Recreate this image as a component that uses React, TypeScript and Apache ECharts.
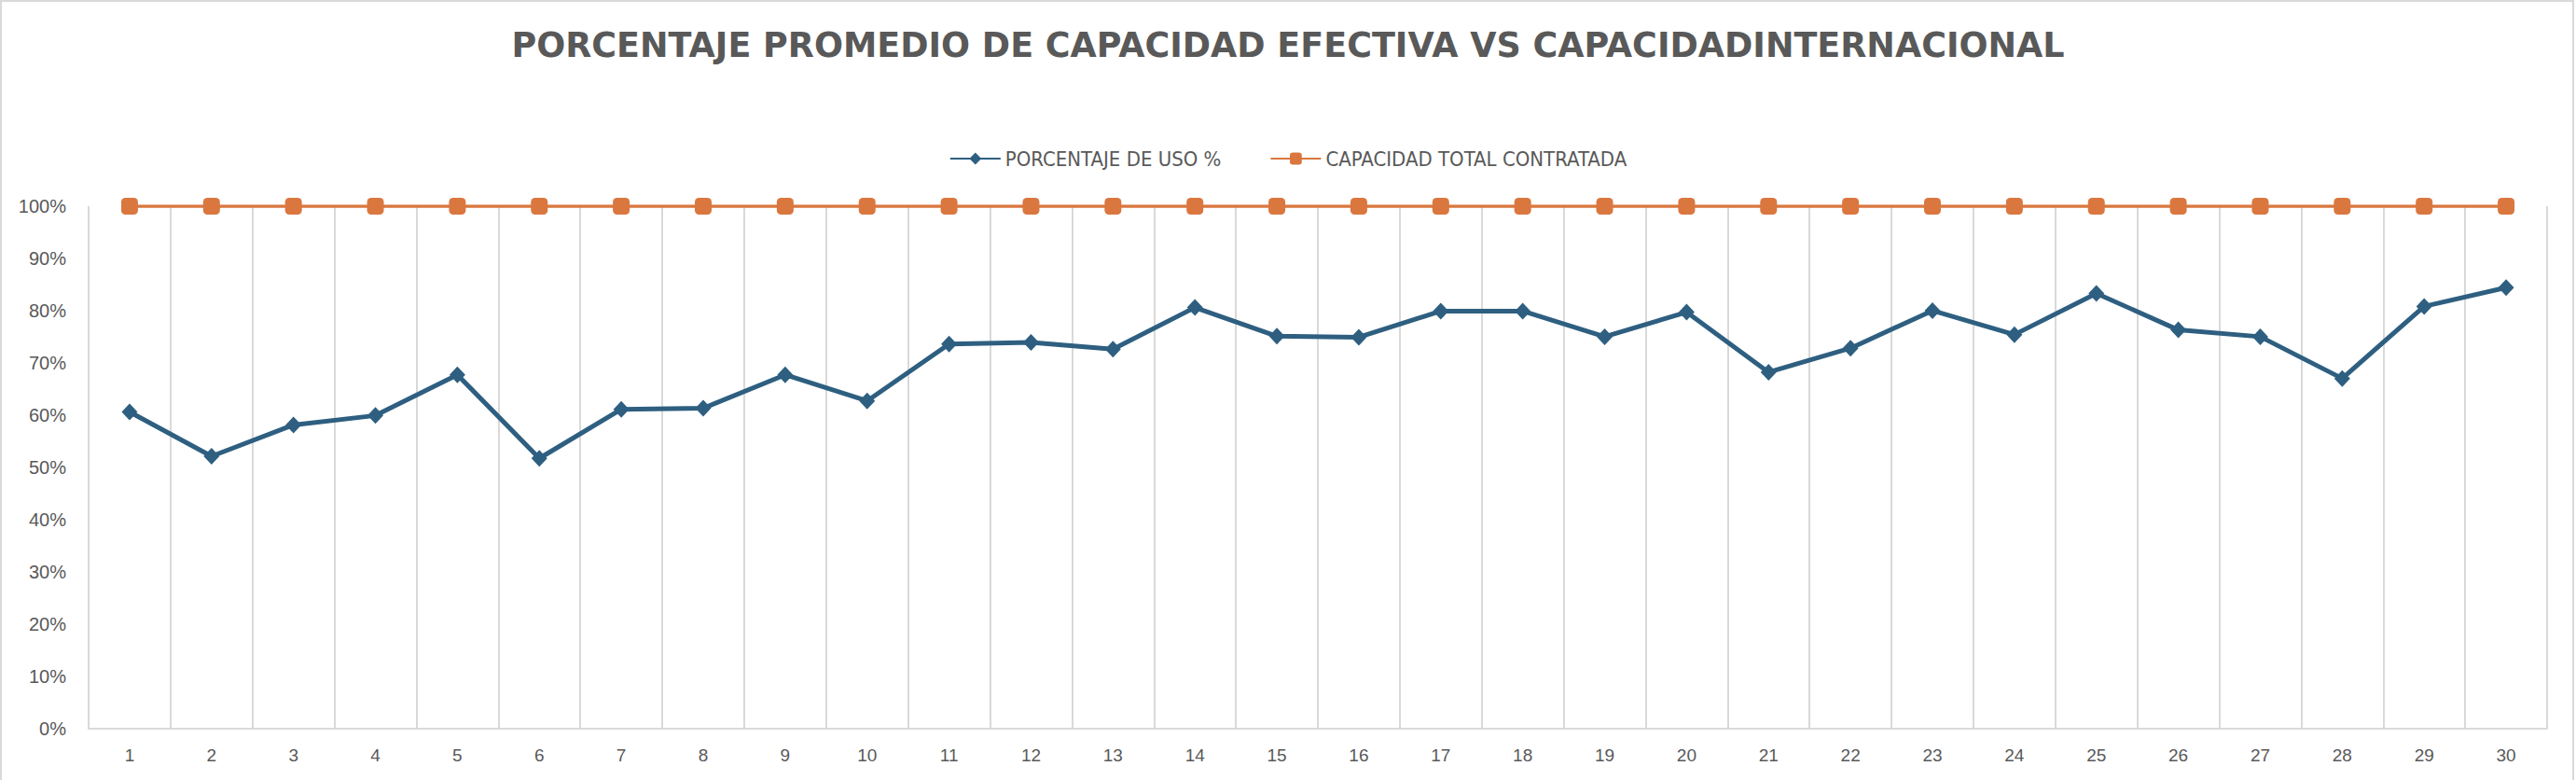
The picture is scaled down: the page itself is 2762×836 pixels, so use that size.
import React, { useEffect, useRef } from "react";
import * as echarts from "echarts";

const titleText = "PORCENTAJE PROMEDIO DE CAPACIDAD EFECTIVA VS CAPACIDADINTERNACIONAL";
const seriesNames = ["PORCENTAJE DE USO %", "CAPACIDAD TOTAL CONTRATADA"];
const days = ["1", "2", "3", "4", "5", "6", "7", "8", "9", "10", "11", "12", "13", "14", "15", "16", "17", "18", "19", "20", "21", "22", "23", "24", "25", "26", "27", "28", "29", "30"];
const usoPct = [60.6, 52.1, 58.1, 59.9, 67.7, 51.7, 61.1, 61.3, 67.7, 62.7, 73.6, 73.9, 72.6, 80.6, 75.1, 74.9, 79.9, 79.9, 75.0, 79.7, 68.2, 72.8, 80.0, 75.4, 83.3, 76.3, 75.0, 67.0, 80.8, 84.4];
const capacidadTotal = [100, 100, 100, 100, 100, 100, 100, 100, 100, 100, 100, 100, 100, 100, 100, 100, 100, 100, 100, 100, 100, 100, 100, 100, 100, 100, 100, 100, 100, 100];
const yTicks = { min: 0, max: 100, interval: 10 };

const BLUE = "#2E5F80";
const ORANGE = "#DA773F";
const TEXT = "#595959";
const GRIDC = "#D9D9D9";

export default function App() {
  const ref = useRef<HTMLDivElement>(null);
  useEffect(() => {
    document.body.style.margin = "0";
    const chart = echarts.init(ref.current!, null, { renderer: "svg" });
    chart.setOption({
      animation: false,
      backgroundColor: "#FFFFFF",
      title: {
        text: titleText,
        left: "center",
        top: 25,
        textStyle: {
          fontFamily: "'DejaVu Sans', sans-serif",
          fontWeight: "bold",
          fontSize: 36.5,
          color: TEXT,
        },
      },
      legend: {
        top: 154,
        left: "center",
        itemWidth: 54,
        itemHeight: 16,
        itemGap: 52,
        textStyle: {
          fontFamily: "'Liberation Sans Narrow', 'DejaVu Sans Condensed', sans-serif",
          fontSize: 22,
          color: TEXT,
        },
        data: seriesNames,
      },
      graphic: [
        {
          type: "rect",
          shape: { x: 1, y: 1, width: 2758, height: 840 },
          style: { fill: "none", stroke: GRIDC, lineWidth: 2 },
          silent: true,
        },
      ],
      grid: { left: 95, right: 31, top: 221, bottom: 55.5, containLabel: false },
      xAxis: {
        type: "category",
        data: days,
        boundaryGap: true,
        axisLine: { show: true, lineStyle: { color: GRIDC, width: 2 } },
        axisTick: { show: false },
        splitLine: { show: true, interval: 0, lineStyle: { color: GRIDC, width: 2 } },
        axisLabel: {
          interval: 0,
          margin: 19,
          fontFamily: "'Liberation Sans', sans-serif",
          fontSize: 19,
          color: TEXT,
        },
      },
      yAxis: {
        type: "value",
        min: yTicks.min,
        max: yTicks.max,
        interval: yTicks.interval,
        axisLine: { show: false },
        axisTick: { show: false },
        splitLine: { show: false },
        axisLabel: {
          formatter: "{value}%",
          margin: 24,
          fontFamily: "'Liberation Sans', sans-serif",
          fontSize: 20,
          color: TEXT,
        },
      },
      series: [
        {
          name: seriesNames[0],
          type: "line",
          data: usoPct,
          symbol: "diamond",
          symbolSize: [17, 18],
          lineStyle: { color: BLUE, width: 5 },
          itemStyle: { color: BLUE },
          z: 3,
        },
        {
          name: seriesNames[1],
          type: "line",
          data: capacidadTotal,
          symbol: "roundRect",
          symbolSize: 18,
          lineStyle: { color: ORANGE, width: 3.5 },
          itemStyle: { color: ORANGE },
          z: 2,
        },
      ],
    });
    return () => chart.dispose();
  }, []);
  return <div ref={ref} style={{ position: "fixed", left: 0, top: 0, width: 2762, height: 836 }} />;
}
